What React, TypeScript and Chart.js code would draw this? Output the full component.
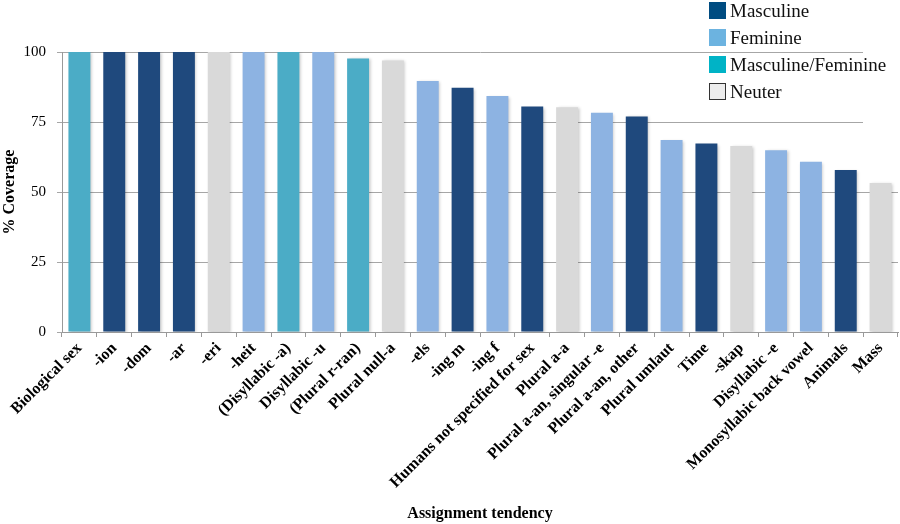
import React, { useEffect, useRef } from "react";
import { Chart, registerables } from "chart.js";

Chart.register(...registerables);

const categories: string[] = [
  "Biological sex",
  "-ion",
  "-dom",
  "-ar",
  "-eri",
  "-heit",
  "(Disyllabic -a)",
  "Disyllabic -u",
  "(Plural r-ran)",
  "Plural null-a",
  "-els",
  "-ing m",
  "-ing f",
  "Humans not specified for sex",
  "Plural a-a",
  "Plural a-an, singular -e",
  "Plural a-an, other",
  "Plural umlaut",
  "Time",
  "-skap",
  "Disyllabic -e",
  "Monosyllabic back vowel",
  "Animals",
  "Mass",
];

const coverage: number[] = [
  100, 100, 100, 100, 100, 100, 100, 100, 97.7, 97.0, 89.6, 87.2, 84.3, 80.5,
  80.3, 78.3, 77.0, 68.6, 67.3, 66.4, 64.9, 60.8, 57.9, 53.2,
];

// M = Masculine, F = Feminine, MF = Masculine/Feminine, N = Neuter
const gender: string[] = [
  "MF", "M", "M", "M", "N", "F", "MF", "F", "MF", "N", "F", "M", "F", "M",
  "N", "F", "M", "F", "M", "N", "F", "F", "M", "N",
];

const yTicks: number[] = [0, 25, 50, 75, 100];

const legendLabels: string[] = ["Masculine", "Feminine", "Masculine/Feminine", "Neuter"];
const legendKeys: string[] = ["M", "F", "MF", "N"];

const barColors: Record<string, string> = {
  M: "#1F497D",
  F: "#8DB3E2",
  MF: "#4BACC6",
  N: "#D9D9D9",
};

const legendColors: Record<string, string> = {
  M: "#004C81",
  F: "#6CB3E0",
  MF: "#00B3C6",
  N: "#EDEDED",
};

const SERIF = "'Liberation Serif', 'Times New Roman', serif";

const shadowPlugin = {
  id: "barShadow",
  beforeDatasetsDraw(chart: any) {
    const ctx = chart.ctx;
    ctx.save();
    ctx.shadowColor = "rgba(0,0,0,0.22)";
    ctx.shadowBlur = 3;
    ctx.shadowOffsetX = 1.5;
    ctx.shadowOffsetY = 1;
  },
  afterDatasetsDraw(chart: any) {
    chart.ctx.restore();
  },
};

export default function App() {
  const canvasRef = useRef<HTMLCanvasElement | null>(null);

  useEffect(() => {
    document.body.style.margin = "0";
    const canvas = canvasRef.current;
    if (!canvas) return;
    const chart = new Chart(canvas, {
      type: "bar",
      data: {
        labels: categories,
        datasets: [
          {
            label: "% Coverage",
            data: coverage,
            backgroundColor: gender.map((g) => barColors[g]),
            borderWidth: 0,
            categoryPercentage: 1,
            barPercentage: 0.63,
          },
        ],
      },
      plugins: [shadowPlugin],
      options: {
        responsive: false,
        animation: false,
        devicePixelRatio: 1,
        layout: { padding: { top: 52, right: 2, left: 0, bottom: 0 } },
        plugins: {
          legend: { display: false },
          tooltip: { enabled: false },
        },
        scales: {
          x: {
            grid: {
              offset: true,
              drawOnChartArea: false,
              drawTicks: true,
              tickLength: 5,
              color: "#999999",
            },
            border: { color: "#999999", width: 1 },
            ticks: {
              autoSkip: false,
              maxRotation: 45,
              minRotation: 45,
              padding: 2,
              color: "#000000",
              font: { family: SERIF, size: 16, weight: "bold" },
            },
            title: {
              display: true,
              text: "Assignment tendency",
              color: "#000000",
              font: { family: SERIF, size: 16, weight: "bold" },
              padding: { top: 0, bottom: 1 },
            },
            afterFit(scale: any) {
              scale.height = 192;
            },
          },
          y: {
            min: 0,
            max: 100,
            afterBuildTicks(scale: any) {
              scale.ticks = yTicks.map((v) => ({ value: v }));
            },
            grid: {
              color: "#A6A6A6",
              tickLength: 5,
              drawTicks: true,
            },
            border: { color: "#999999", width: 1 },
            ticks: {
              color: "#000000",
              padding: 11,
              font: { family: SERIF, size: 15 },
            },
            title: {
              display: true,
              text: "% Coverage",
              color: "#000000",
              font: { family: SERIF, size: 16, weight: "bold" },
              padding: { top: 0, bottom: 0 },
            },
            afterFit(scale: any) {
              scale.width = 62;
            },
          },
        },
      },
    });
    return () => chart.destroy();
  }, []);

  return (
    <div style={{ position: "relative", width: 900, height: 524, background: "#fff" }}>
      <canvas ref={canvasRef} width={900} height={524} style={{ display: "block" }} />
      <div
        style={{
          position: "absolute",
          left: 863,
          top: 0,
          width: 37,
          height: 150,
          background: "#fff",
        }}
      />
      <div style={{ position: "absolute", left: 709, top: 2 }}>
        {legendLabels.map((lab, i) => (
          <div
            key={lab}
            style={{
              display: "flex",
              alignItems: "center",
              height: 17,
              marginBottom: 10,
              fontFamily: SERIF,
              fontSize: 19,
              color: "#111",
              whiteSpace: "nowrap",
            }}
          >
            <span
              style={{
                display: "inline-block",
                width: legendKeys[i] === "N" ? 15 : 17,
                height: legendKeys[i] === "N" ? 15 : 17,
                background: legendColors[legendKeys[i]],
                border: legendKeys[i] === "N" ? "1px solid #333" : "none",
                marginRight: 4,
                flex: "none",
              }}
            />
            <span style={{ lineHeight: "17px" }}>{lab}</span>
          </div>
        ))}
      </div>
    </div>
  );
}
